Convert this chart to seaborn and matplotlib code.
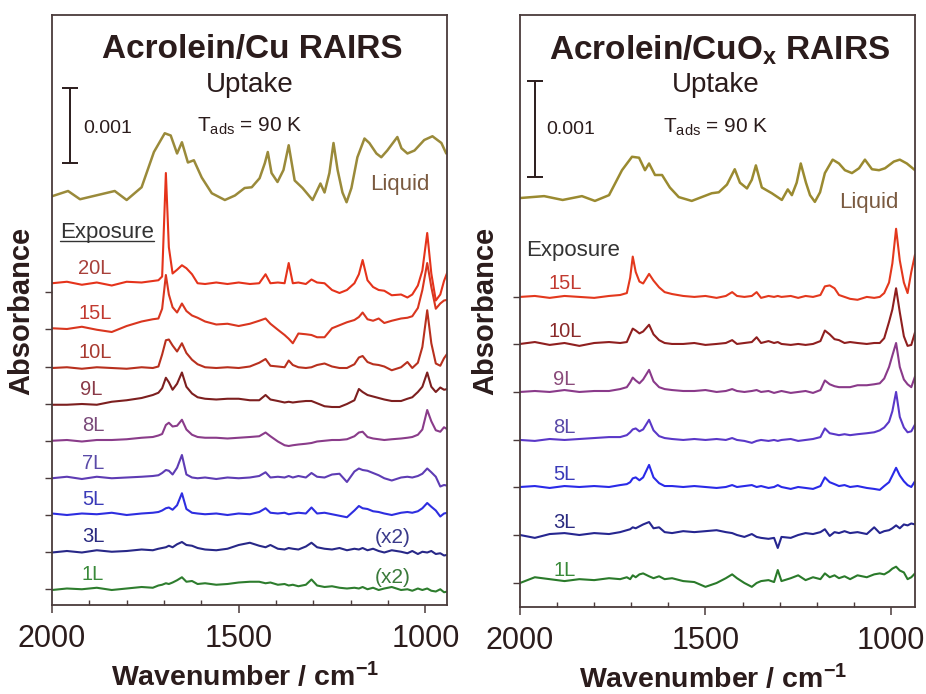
import matplotlib
matplotlib.use("Agg")
import numpy as np
import pandas as pd
import matplotlib.pyplot as plt
import seaborn as sns

# ---- data (absorbance in units of 1e-4) ----
# Acrolein / Cu panel
wn_cu = [2000, 1960, 1920, 1880, 1840, 1800, 1760, 1730,
         1715, 1705, 1695, 1687, 1677, 1665, 1652, 1640, 1625, 1610,
         1590, 1560, 1530, 1500, 1470, 1445, 1428, 1415, 1395, 1377,
         1366, 1355, 1340, 1320, 1305, 1290, 1270, 1250, 1230, 1210,
         1190, 1178, 1168, 1155, 1140, 1125, 1110, 1090, 1065, 1048,
         1035, 1020, 1008, 995, 984, 972, 960, 950, 940]

cu_20L = [0, 0.2, -0.2, 0.1, -0.3, 0.2, 0.1, 0.3,
          0.4, 0.9, 14.7, 4.8, 1.3, 1.8, 2.4, 2.0, 1.2, 0.0,
          -0.1, 0.1, -0.1, 0.1, -0.1, 0.0, 1.2, 0.0, 0.1, 0.0,
          2.7, 0.0, 0.1, -0.1, 0.5, 0.1, 0.0, -0.9, -1.3, -0.9,
          0.0, 1.2, 3.1, 0.4, -0.5, -0.9, -1.0, -1.6, -1.5, -1.9,
          -1.5, -0.3, 1.7, 6.7, 1.3, -2.3, -1.5, 0.3, 1.6]
cu_15L = [0, -0.1, 0.2, -0.2, -0.5, 0.3, 0.9, 1.2,
          1.3, 2.6, 7.1, 4.5, 2.8, 2.1, 3.3, 2.3, 1.7, 1.4,
          0.9, 0.5, 0.6, 0.3, 0.6, 1.0, 1.3, 0.6, -0.2, -0.9,
          -1.4, -2.0, -0.7, -0.8, -0.9, -1.2, -1.2, 0.0, 0.4, 0.8,
          1.1, 1.5, 2.1, 1.2, 1.0, 1.3, 0.7, 1.0, 1.3, 1.4,
          1.6, 2.7, 5.1, 8.7, 5.5, 2.6, 3.3, 3.7, 3.8]
cu_10L = [0, 0.1, -0.1, 0.1, 0.0, -0.1, 0.1, 0.0,
          0.2, 1.8, 3.7, 3.8, 3.0, 2.2, 3.3, 2.0, 1.1, 0.5,
          0.1, 0.0, 0.1, 0.0, 0.2, 0.7, 1.2, 0.3, 0.2, 0.1,
          1.0, 0.4, 0.1, 0.0, 0.1, 0.4, 0.6, 0.2, 0.0, 0.0,
          0.5, 1.4, 1.6, 0.8, 0.5, 0.4, 0.2, -0.3, 0.1, 0.8,
          0.0, 0.7, 2.8, 7.7, 3.3, 0.6, 0.3, 1.3, 2.0]
cu_9L = [0, 0.0, 0.1, 0.0, 0.4, 0.6, 0.9, 1.3,
         1.6, 2.2, 3.6, 3.0, 2.0, 2.8, 4.3, 2.4, 1.5, 1.0,
         0.8, 0.7, 0.8, 0.8, 0.6, 0.6, 1.3, 0.7, 0.5, 0.3,
         0.4, 0.3, 0.4, 0.5, 0.5, 0.2, -0.2, -0.3, -0.3, 0.1,
         0.6, 2.1, 1.7, 1.3, 1.1, 0.9, 0.7, 0.5, 0.5, 0.8,
         1.0, 1.7, 2.4, 4.3, 2.4, 1.7, 2.3, 2.0, 2.1]
cu_8L = [0, 0.1, -0.1, 0.1, 0.1, 0.2, 0.4, 0.5,
         0.7, 0.9, 2.1, 2.4, 1.9, 2.0, 2.8, 1.5, 0.8, 0.5,
         0.4, 0.4, 0.3, 0.4, 0.5, 0.6, 1.1, 0.6, -0.1, -0.6,
         -0.7, -0.6, -0.5, -0.4, -0.3, -0.1, 0.0, 0.1, 0.1, 0.2,
         0.6, 1.1, 1.2, 0.5, 0.3, 0.2, 0.1, 0.2, 0.3, 0.4,
         0.5, 0.8, 1.5, 4.1, 2.6, 1.4, 1.2, 1.8, 1.5]
cu_7L = [0, 0.2, -0.1, 0.2, 0.0, 0.1, 0.2, 0.3,
         0.4, 0.7, 1.1, 1.0, 0.5, 1.4, 3.1, 0.5, 0.1, 0.0,
         0.1, -0.1, 0.1, 0.0, 0.1, 0.3, 0.8, 0.1, 0.2, 0.1,
         0.3, 0.1, 0.3, 0.1, 0.7, 0.2, 0.1, 0.5, 0.6, -0.5,
         0.9, 1.3, 1.1, 1.0, 0.7, 0.4, 0.0, -0.3, 0.1, 0.2,
         0.1, 0.3, 0.6, 1.3, 0.8, 0.2, -1.1, -0.9, -1.0]
cu_5L = [0.1, -0.1, 0.1, 0.0, 0.2, -0.1, 0.1, 0.2,
         0.3, 0.5, 0.8, 0.9, 0.6, 1.2, 2.8, 0.7, 0.2, 0.1,
         0.0, 0.1, -0.1, 0.1, 0.0, 0.3, 0.8, 0.2, 0.1, 0.2,
         0.0, 0.1, 0.2, 0.1, 0.9, 0.1, 0.2, 0.0, -0.2, -0.4,
         0.5, 1.1, 0.8, 0.7, 0.4, 0.3, 0.1, -0.1, 0.2, 0.3,
         0.2, 0.4, 0.8, 1.5, 1.0, 0.5, -0.3, 0.1, 0.2]
cu_3L = [-0.1, 0.1, -0.1, 0.2, 0.0, 0.1, 0.3, 0.2,
         0.4, 0.5, 0.6, 0.8, 0.6, 1.0, 1.3, 0.9, 0.8, 0.5,
         0.3, 0.2, 0.4, 0.9, 1.2, 0.8, 0.6, 0.9, 0.4, 0.3,
         0.5, 0.4, 0.3, 0.7, 1.2, 0.6, 0.4, 0.3, 0.5, 0.2,
         0.4, 0.3, 0.5, 0.2, 0.4, 0.1, -0.1, 0.2, 0.0, -0.2,
         0.1, -0.3, 0.0, -0.1, 0.1, -0.3, -0.2, -0.5, -0.4]
cu_1L = [-0.1, 0.1, 0.0, 0.2, -0.1, 0.1, 0.3, 0.2,
         0.5, 0.6, 0.8, 0.7, 0.9, 1.2, 1.6, 1.0, 1.1, 0.7,
         0.8, 0.6, 0.7, 0.9, 1.0, 1.0, 0.8, 0.9, 0.6, 0.7,
         0.5, 0.6, 0.4, 0.6, 1.3, 0.5, 0.3, 0.4, 0.2, 0.1,
         0.2, 0.1, 0.3, 0.0, 0.2, -0.1, 0.1, 0.3, -0.1, 0.0,
         -0.2, 0.1, -0.1, 0.1, -0.2, -0.3, 0.0, -0.4, -0.3]

wn_liq_cu = [2000, 1957, 1925, 1832, 1800, 1760, 1727, 1698, 1682, 1665,
             1652, 1636, 1620, 1599, 1572, 1537, 1510, 1484, 1465, 1444,
             1430, 1422, 1412, 1396, 1380, 1366, 1350, 1329, 1302, 1281,
             1270, 1257, 1246, 1235, 1222, 1211, 1198, 1182, 1163, 1150,
             1131, 1118, 1102, 1075, 1064, 1048, 1029, 1003, 981, 957, 944]
liq_cu = [0, 0.7, -0.4, 0.7, -0.5, 1.2, 5.9, 8.4, 8.1, 5.7,
          7.2, 4.5, 4.8, 2.5, 0.4, -0.5, 0.1, 1.1, 1.2, 2.4,
          4.4, 5.9, 3.1, 1.9, 3.5, 6.8, 2.1, 1.1, -0.5, 1.7,
          0.5, 3.1, 7.1, 3.5, 0.5, -0.8, 1.1, 5.2, 7.7, 7.1,
          5.7, 5.2, 6.1, 7.9, 6.4, 5.7, 6.1, 7.5, 8.0, 7.1, 5.7]

labels_cu = ["20L", "15L", "10L", "9L", "8L", "7L", "5L", "3L", "1L"]
offsets_cu = [42.9, 36.9, 31.6, 26.7, 21.9, 16.9, 12.1, 7.1, 2.1]
yticks_cu = [41.7, 36.8, 31.8, 26.8, 21.9, 16.9, 12.0, 7.1, 2.2]

# Acrolein / CuOx panel
wn_cuox = [2000, 1960, 1920, 1880, 1840, 1800, 1760, 1730,
           1712, 1703, 1696, 1688, 1678, 1668, 1652, 1640, 1625, 1610,
           1590, 1560, 1530, 1500, 1470, 1445, 1428, 1415, 1395, 1375,
           1362, 1350, 1330, 1315, 1305, 1295, 1270, 1250, 1230, 1210,
           1190, 1178, 1165, 1152, 1140, 1125, 1110, 1090, 1065, 1045,
           1030, 1018, 1005, 996, 986, 976, 965, 955, 945, 935]

ox_15L = [0, 0.1, -0.1, 0.1, 0.0, -0.1, 0.1, 0.2,
          0.4, 2.0, 4.2, 2.6, 1.6, 1.4, 2.4, 1.7, 1.0, 0.5,
          0.3, 0.1, 0.0, 0.1, -0.1, 0.1, 0.5, 0.1, 0.0, 0.1,
          0.5, -0.1, 0.1, 0.0, 0.1, 0.0, 0.1, -0.1, 0.1, 0.0,
          0.2, 1.1, 1.2, 0.9, 0.2, 0.0, -0.2, -0.3, 0.0, -0.1,
          0.0, 0.4, 1.5, 3.5, 7.1, 3.8, 1.5, 0.4, 2.6, 4.4]
ox_10L = [0, 0.2, -0.1, 0.1, -0.2, 0.1, 0.2, 0.1,
          0.2, 1.0, 1.6, 1.4, 1.1, 1.3, 2.0, 1.0, 0.4, 0.1,
          0.0, 0.0, 0.1, -0.1, 0.0, 0.1, 0.4, 0.0, 0.1, 0.2,
          0.7, 0.1, 0.3, 0.1, 0.2, 0.0, -0.1, 0.0, -0.1, 0.0,
          0.3, 1.4, 1.0, 0.5, 0.4, 0.1, 0.2, 0.1, 0.0, 0.1,
          0.1, 0.6, 2.3, 3.6, 5.8, 3.3, 0.8, -0.2, -0.1, 1.2]
ox_9L = [0, 0.1, 0.0, 0.2, 0.0, 0.1, 0.1, 0.3,
         0.5, 1.0, 1.5, 1.2, 0.9, 1.3, 2.3, 1.1, 0.5, 0.3,
         0.2, 0.1, 0.1, 0.2, 0.0, 0.1, 0.3, 0.1, 0.0, 0.1,
         0.2, 0.0, 0.1, -0.1, 0.0, 0.1, -0.1, 0.0, 0.1, -0.1,
         0.2, 1.2, 0.8, 0.6, 0.5, 0.5, 0.5, 0.7, 0.7, 0.8,
         0.9, 1.4, 2.6, 3.8, 5.1, 2.6, 1.3, 0.8, 0.5, 1.6]
ox_8L = [0, -0.1, 0.1, 0.0, 0.1, 0.2, 0.3, 0.3,
         0.5, 0.8, 1.1, 1.2, 0.9, 1.1, 2.1, 1.0, 0.4, 0.2,
         0.1, 0.0, 0.1, 0.0, 0.1, 0.0, 0.2, 0.0, -0.1, -0.3,
         -0.1, 0.0, -0.1, 0.0, -0.1, 0.0, 0.1, -0.1, 0.0, 0.1,
         0.3, 1.2, 0.7, 0.6, 0.5, 0.6, 0.5, 0.6, 0.7, 0.8,
         1.0, 1.3, 1.9, 3.0, 5.0, 2.4, 1.3, 0.8, 0.9, 1.6]
ox_5L = [0, 0.1, -0.1, 0.1, 0.0, 0.1, 0.0, 0.2,
         0.3, 0.5, 0.9, 1.0, 0.7, 1.0, 2.3, 1.0, 0.4, 0.1,
         0.1, 0.0, 0.1, 0.0, -0.1, 0.0, 0.2, 0.0, 0.1, 0.2,
         0.0, 0.1, -0.1, 0.0, 0.2, 0.0, -0.2, 0.0, -0.1, -0.2,
         0.1, 1.0, 0.5, 0.3, 0.1, 0.2, 0.0, 0.1, -0.1, -0.2,
         -0.3, 0.1, 0.5, 1.2, 2.0, 1.2, 0.6, 0.2, 0.0, 0.6]
ox_3L = [0, -0.3, 0.1, 0.2, 0.0, 0.2, 0.1, 0.3,
         0.5, 0.6, 0.8, 0.7, 0.9, 1.1, 1.35, 0.7, 0.8, 0.3,
         0.2, 0.4, 0.3, 0.4, 0.5, 0.3, 0.2, 0.0, -0.2, 0.1,
         -0.2, -0.3, -0.4, -0.3, -1.35, -0.2, -0.3, 0.0, 0.2, 0.1,
         0.3, 0.6, -0.1, 0.3, 0.2, 0.4, 0.2, 0.3, 0.1, 0.8,
         0.2, 0.4, 0.5, 0.7, 1.0, 0.7, 1.1, 1.0, 1.2, 1.1]
ox_1L = [0, 0.6, 0.4, 0.2, 0.4, 0.3, 0.5, 0.4,
         0.6, 0.4, 0.8, 0.6, 0.9, 1.0, 0.7, 0.5, 0.7, 0.4,
         0.5, 0.2, 0.1, -0.4, 0.0, 0.5, 0.9, 0.5, 0.0, -0.4,
         0.0, 0.2, 0.3, 0.1, 1.35, 0.2, 0.5, 0.8, 0.3, 0.6,
         0.4, 1.0, 0.6, 0.8, 0.5, 0.7, 0.4, 0.8, 0.6, 0.9,
         1.0, 0.9, 1.2, 1.5, 1.7, 1.3, 1.1, 0.4, 0.6, 1.0]

wn_liq_cuox = [2000, 1935, 1885, 1833, 1798, 1760, 1725, 1698, 1679, 1663,
               1652, 1636, 1617, 1596, 1572, 1537, 1510, 1483, 1464, 1442,
               1421, 1407, 1388, 1375, 1364, 1348, 1321, 1294, 1278, 1267,
               1254, 1243, 1229, 1218, 1205, 1191, 1178, 1157, 1140, 1124,
               1105, 1086, 1070, 1051, 1032, 1016, 992, 976, 957, 935]
liq_cuox = [0, 0.2, -0.2, 0.2, -0.3, 0.3, 2.9, 4.3, 4.2, 2.9,
            3.6, 2.4, 2.4, 1.1, 0.1, -0.3, 0.1, 0.5, 0.6, 1.4,
            3.0, 1.6, 1.0, 1.9, 3.4, 1.1, 0.5, -0.2, 0.9, 0.3,
            1.6, 3.6, 1.6, 0.3, -0.4, 0.6, 2.6, 4.0, 3.6, 2.9,
            2.6, 3.1, 4.0, 3.0, 2.9, 3.1, 3.8, 4.0, 3.6, 2.9]

labels_cuox = ["15L", "10L", "9L", "8L", "5L", "3L", "1L"]
offsets_cuox = [32.3, 27.4, 22.4, 17.4, 12.5, 7.5, 2.5]
yticks_cuox = [32.3, 27.4, 22.4, 17.4, 12.5, 7.5, 2.5]

# ---- styling ----
sns.set_style("white")
plt.rcParams["font.family"] = ["Liberation Sans", "DejaVu Sans"]
plt.rcParams["mathtext.fontset"] = "custom"
plt.rcParams["mathtext.rm"] = "Liberation Sans"
plt.rcParams["mathtext.it"] = "Liberation Sans:italic"
plt.rcParams["mathtext.bf"] = "Liberation Sans:bold"

INK = "#2b1c1c"
FRAME = "#4a3b3b"

line_cu = ["#e5331b", "#d9361f", "#b8301e", "#7d1f1f", "#8a3c8a",
           "#5e3cb4", "#2e2ee0", "#282888", "#2e7d2e"]
text_cu = ["#a8403a", "#c23a30", "#a83a30", "#8a3a48", "#7a4a7a",
           "#5a4aa8", "#3a3ab8", "#2a2a80", "#3a8a3a"]
line_ox = ["#e3381d", "#8f1f1f", "#8a3a8a", "#5a38c8", "#2a2ae8",
           "#262690", "#2a7a2a"]
text_ox = ["#c23a30", "#8a2a2a", "#8a4a7a", "#5a4aa8", "#3a3ab8",
           "#2a2a80", "#3a8a3a"]

fig = plt.figure(figsize=(9.26, 6.94), dpi=100)
ax1 = fig.add_axes([52 / 926, 1 - 605 / 694, 395 / 926, 590 / 694])
ax2 = fig.add_axes([520 / 926, 1 - 607 / 694, 395 / 926, 592 / 694])


def long_table(wn, traces, labels, offsets):
    rows = []
    for lab, vals, off in zip(labels, traces, offsets):
        assert len(vals) == len(wn), lab
        for w, v in zip(wn, vals):
            rows.append((lab, w, off + v))
    return pd.DataFrame(rows, columns=["exposure", "wavenumber", "absorbance"])


def draw_panel(ax, wn, traces, labels, offsets, colors, tcolors,
               liq_wn, liq, liq_off, liq_color, ymax, xmin, label_x, label_dy):
    df = long_table(wn, traces, labels, offsets)
    sns.lineplot(data=df, x="wavenumber", y="absorbance", hue="exposure",
                 palette=dict(zip(labels, colors)), estimator=None, sort=False,
                 legend=False, lw=1.5, ax=ax)
    liq_df = pd.DataFrame({"wavenumber": liq_wn,
                           "absorbance": np.array(liq) + liq_off})
    sns.lineplot(data=liq_df, x="wavenumber", y="absorbance", color=liq_color,
                 estimator=None, sort=False, lw=1.8, ax=ax)
    for lab, off, c, lx in zip(labels, offsets, tcolors, label_x):
        ax.text(lx, off + label_dy, lab, color=c, fontsize=14.5,
                ha="left", va="center")
    ax.set_xlim(2000, xmin)
    ax.set_ylim(0, ymax)
    ax.set_xticks([2000, 1500, 1000])
    ax.set_xticks(np.arange(1900, xmin, -100), minor=True)
    ax.set_xticklabels(["2000", "1500", "1000"])
    ax.tick_params(axis="x", which="major", direction="out", length=6,
                   width=1.1, color=FRAME, labelsize=22, pad=8,
                   labelcolor=INK, bottom=True)
    ax.tick_params(axis="x", which="minor", direction="in", length=3.5,
                   width=1.0, color=FRAME, bottom=True)
    ax.tick_params(axis="y", which="major", direction="out", length=5,
                   width=1.0, color=FRAME, labelleft=False, left=True)
    for s in ax.spines.values():
        s.set_color(FRAME)
        s.set_linewidth(1.3)
    ax.set_xlabel(r"Wavenumber / cm$^{\mathbf{-1}}$", fontsize=20.5,
                  fontweight="bold", color=INK)
    ax.set_ylabel("Absorbance", fontsize=21, fontweight="bold", color=INK)


draw_panel(ax1, wn_cu,
           [cu_20L, cu_15L, cu_10L, cu_9L, cu_8L, cu_7L, cu_5L, cu_3L, cu_1L],
           labels_cu, offsets_cu, line_cu, text_cu,
           wn_liq_cu, liq_cu, 54.5, "#9a8a3a", 590 / 7.5, 942,
           [1930, 1930, 1930, 1925, 1920, 1920, 1920, 1920, 1920], 2.0)
ax1.set_yticks(yticks_cu)

draw_panel(ax2, wn_cuox,
           [ox_15L, ox_10L, ox_9L, ox_8L, ox_5L, ox_3L, ox_1L],
           labels_cuox, offsets_cuox, line_ox, text_ox,
           wn_liq_cuox, liq_cuox, 42.6, "#9a8a30", 592 / 9.6, 935,
           [1922, 1922, 1910, 1910, 1910, 1910, 1910], 1.35)
ax2.set_yticks(yticks_cuox)

for ax in (ax1, ax2):
    ax.xaxis.set_label_coords(0.49, -0.097)
ax1.yaxis.set_label_coords(-0.042, 0.498)
ax2.yaxis.set_label_coords(-0.052, 0.50)

# scale bars (0.001 = 10 units)
ax1.errorbar([1952], [63.9], yerr=5, color=INK, capsize=6, elinewidth=1.4,
             capthick=1.4)
ax2.errorbar([1960], [49.8], yerr=5, color=INK, capsize=6, elinewidth=1.4,
             capthick=1.4)

# annotations
ax1.text(0.506, 0.941, "Acrolein/Cu RAIRS", transform=ax1.transAxes,
         fontsize=24, fontweight="bold", ha="center", va="center", color=INK)
ax2.text(0.506, 0.941, r"Acrolein/CuO$_{\mathbf{x}}$ RAIRS",
         transform=ax2.transAxes, fontsize=24, fontweight="bold",
         ha="center", va="center", color=INK)
for ax, ux in ((ax1, 0.501), (ax2, 0.496)):
    ax.text(ux, 0.881, "Uptake", transform=ax.transAxes, fontsize=20,
            ha="center", va="center", color=INK)
ax1.text(0.078, 0.808, "0.001", transform=ax1.transAxes, fontsize=14,
         ha="left", va="center", color=INK)
ax2.text(0.066, 0.806, "0.001", transform=ax2.transAxes, fontsize=14,
         ha="left", va="center", color=INK)
ax1.text(0.367, 0.802, r"T$_{\mathrm{ads}}$ = 90 K", transform=ax1.transAxes,
         fontsize=15, ha="left", va="baseline", color=INK)
ax2.text(0.362, 0.801, r"T$_{\mathrm{ads}}$ = 90 K", transform=ax2.transAxes,
         fontsize=15, ha="left", va="baseline", color=INK)
ax1.text(0.805, 0.712, "Liquid", transform=ax1.transAxes, fontsize=16,
         ha="left", va="center", color="#7a5a40")
ax2.text(0.808, 0.684, "Liquid", transform=ax2.transAxes, fontsize=16,
         ha="left", va="center", color="#7a5a40")
exp1 = ax1.text(0.020, 0.632, "Exposure", transform=ax1.transAxes,
                fontsize=16, ha="left", va="center", color="#333333")
ax2.text(0.015, 0.603, "Exposure", transform=ax2.transAxes, fontsize=16,
         ha="left", va="center", color="#333333")
ax1.text(0.818, 0.114, "(x2)", transform=ax1.transAxes, fontsize=15,
         ha="left", va="center", color="#3a3a8a")
ax1.text(0.818, 0.046, "(x2)", transform=ax1.transAxes, fontsize=15,
         ha="left", va="center", color="#3a7a3a")

# underline "Exposure" on the Cu panel
fig.canvas.draw()
bb = exp1.get_window_extent().transformed(ax1.transAxes.inverted())
ax1.plot([bb.x0, bb.x1], [bb.y0 + 0.002, bb.y0 + 0.002], color="#333333",
         lw=1.0, transform=ax1.transAxes)

fig.savefig("out.png", dpi=100)
